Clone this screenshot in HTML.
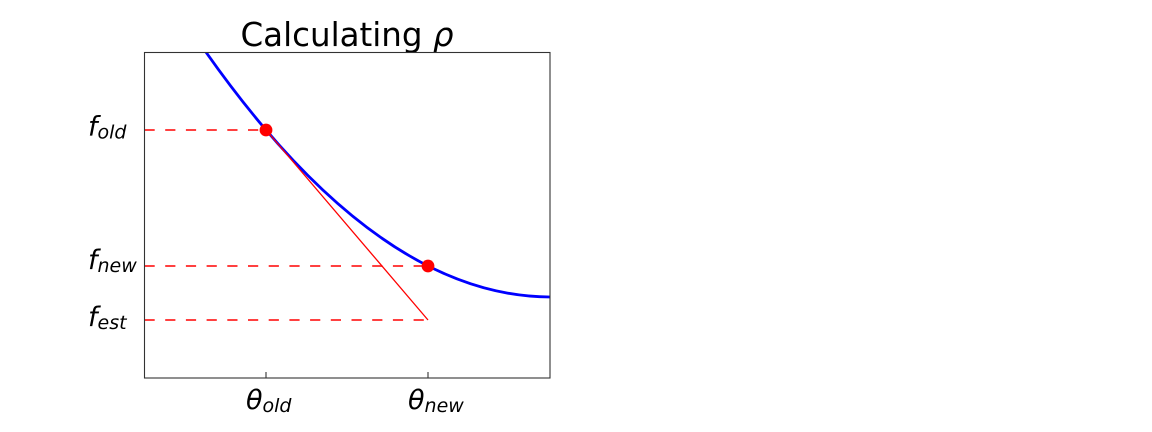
<!DOCTYPE html>
<html>
<head>
<meta charset="utf-8">
<style>
  html, body { margin: 0; padding: 0; background: #ffffff; }
  body { width: 1152px; height: 432px; overflow: hidden; }
  svg { display: block; }
  text { font-family: "DejaVu Sans", "Liberation Sans", sans-serif; fill: #000; }
  .m { font-style: italic; }
</style>
</head>
<body>
<svg width="1152" height="432" viewBox="0 0 1152 432" xmlns="http://www.w3.org/2000/svg">
  <rect x="0" y="0" width="1152" height="432" fill="#ffffff"/>
  <defs>
    <clipPath id="ax">
      <rect x="144" y="52" width="406" height="326"/>
    </clipPath>
  </defs>

  <!-- Title -->
  <text x="347" y="46" font-size="32.5" text-anchor="middle">Calculating <tspan class="m">ρ</tspan></text>

  <g clip-path="url(#ax)">
    <line x1="144.5" y1="130" x2="266" y2="130" stroke="#ff4040" stroke-width="2" stroke-dasharray="10.2 10.5"/>
    <line x1="144.5" y1="266" x2="428" y2="266" stroke="#ff4040" stroke-width="2" stroke-dasharray="10.2 10.5"/>
    <line x1="144.5" y1="320" x2="428" y2="320" stroke="#ff4040" stroke-width="2" stroke-dasharray="10.2 10.5"/>

    <path d="M200,43.6 Q375.4,297 550.8,297" fill="none" stroke="#0000ff" stroke-width="2.8"/>

    <line x1="266" y1="130" x2="428" y2="320" stroke="#ff0000" stroke-width="1.3"/>

    <circle cx="266" cy="130" r="6.4" fill="#ff0000"/>
    <circle cx="428" cy="266" r="6.4" fill="#ff0000"/>
  </g>

  <rect x="144.5" y="52.5" width="405.5" height="325.5" fill="none" stroke="#333333" stroke-width="1.1"/>

  <line x1="266" y1="378" x2="266" y2="372" stroke="#333333" stroke-width="1.1"/>
  <line x1="428" y1="378" x2="428" y2="372" stroke="#333333" stroke-width="1.1"/>

  <text x="88" y="135.5" font-size="27" class="m">f<tspan font-size="19" dy="3">old</tspan></text>
  <text x="88" y="269" font-size="27" class="m">f<tspan font-size="19" dy="3">new</tspan></text>
  <text x="88" y="326" font-size="27" class="m">f<tspan font-size="19" dy="3">est</tspan></text>

  <text x="246" y="409" font-size="27" class="m">θ<tspan font-size="19" dy="3">old</tspan></text>
  <text x="408" y="409" font-size="27" class="m">θ<tspan font-size="19" dy="3">new</tspan></text>
</svg>
</body>
</html>
